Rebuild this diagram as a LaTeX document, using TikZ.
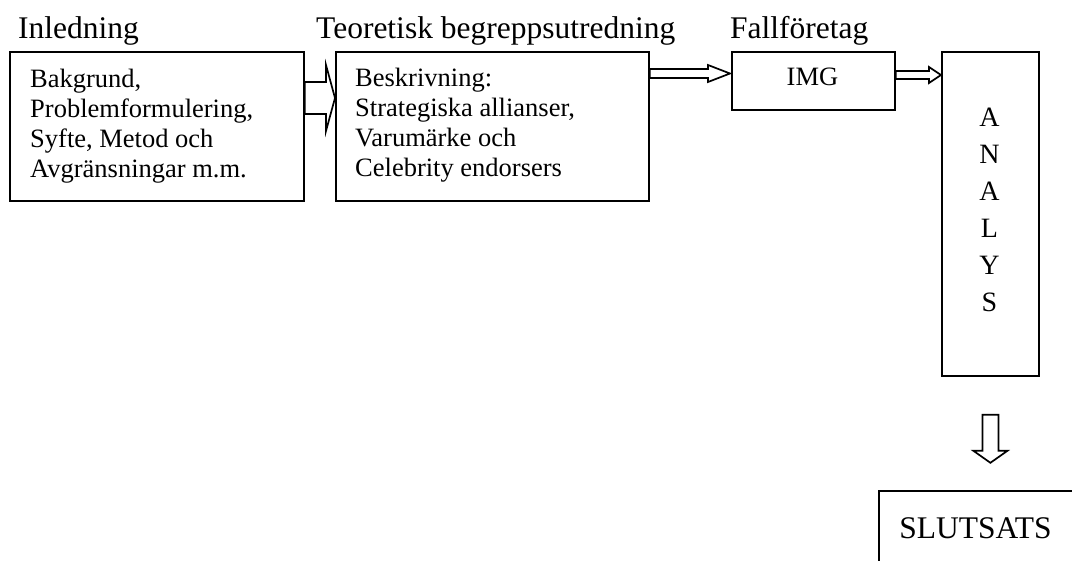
\documentclass[tikz,border=0pt]{standalone}
\usepackage{fontspec}
\setmainfont{Liberation Serif}
\usetikzlibrary{calc}

% horizontal block arrow: start, tip, shaft half-height, head half-height, head length
\newcommand{\blockarrowh}[5]{%
  \draw[blockarrow] ($(#1)+(0,-#3)$) -- ($(#2)+(-#5,-#3)$) -- ($(#2)+(-#5,-#4)$) -- (#2)
    -- ($(#2)+(-#5,#4)$) -- ($(#2)+(-#5,#3)$) -- ($(#1)+(0,#3)$) -- cycle;}
% vertical (downward) block arrow: start, tip, shaft half-width, head half-width, head length
\newcommand{\blockarrowv}[5]{%
  \draw[blockarrow] ($(#1)+(-#3,0)$) -- ($(#2)+(-#3,-#5)$) -- ($(#2)+(-#4,-#5)$) -- (#2)
    -- ($(#2)+(#4,-#5)$) -- ($(#2)+(#3,-#5)$) -- ($(#1)+(#3,0)$) -- cycle;}

\begin{document}
\begin{tikzpicture}[x=1bp,y=-1bp,
  frame/.style={draw, line width=1.8bp, inner sep=0, anchor=north west},
  blockarrow/.style={draw, fill=white, line width=1.7bp, line join=miter},
  heading/.style={inner sep=0, anchor=base west, font=\fontsize{31.5bp}{36bp}\selectfont},
  body/.style={inner sep=0, anchor=base west, font=\fontsize{26.5bp}{30bp}\selectfont},
]
\useasboundingbox (0,0) rectangle (1072,561);
\clip (0,0) rectangle (1072,561);

% section headings
\node[heading] (h-intro) at (18,39) {Inledning};
\node[heading] (h-theory) at (316,39) {Teoretisk begreppsutredning};
\node[heading] (h-case) at (730,39) {Fallföretag};

% boxes
\node[frame, minimum width=294bp, minimum height=149bp] (intro) at (9,51) {};
\node[frame, minimum width=313bp, minimum height=149bp] (theory) at (335,51) {};
\node[frame, minimum width=163bp, minimum height=58bp] (img) at (731,51) {};
\node[frame, minimum width=97bp, minimum height=324bp] (analys) at (941,51) {};
\node[frame, minimum width=200bp, minimum height=120bp] (slut) at (878,490) {};

% box contents
\node[body] (intro-text) at (30,88)
  {\parbox[t]{270bp}{Bakgrund,\\Problemformulering,\\Syfte, Metod och\\Avgränsningar m.m.}};
\node[body] (theory-text) at (355,87)
  {\parbox[t]{290bp}{Beskrivning:\\Strategiska allianser,\\Varumärke och\\Celebrity endorsers}};
\node[body, anchor=base] (img-text) at (812.5,86) {IMG};
\node[inner sep=0, anchor=base, font=\fontsize{28bp}{37bp}\selectfont] (analys-text) at (989.5,127)
  {\parbox[t]{40bp}{\centering A\\N\\A\\L\\Y\\S}};
\node[heading, anchor=base] (slut-text) at (975.5,538) {SLUTSATS};

% connectors
\coordinate (a1s) at ($(intro.north east)+(0,47)$);
\coordinate (a1e) at ($(theory.north west)+(0,47)$);
\coordinate (a2s) at ($(theory.north east)+(0,22.5)$);
\coordinate (a2e) at ($(img.north west)+(-1,22.5)$);
\coordinate (a3s) at ($(img.north east)+(0,24)$);
\coordinate (a3e) at ($(analys.north west)+(0,24)$);
\coordinate (a4s) at ($(analys.south)+(0,38)$);
\coordinate (a4e) at ($(analys.south)+(0,86)$);

\blockarrowh{a1s}{a1e}{16}{33}{9}
\blockarrowh{a2s}{a2e}{4.5}{8.5}{22}
\blockarrowh{a3s}{a3e}{4}{8}{12}
\blockarrowv{a4s}{a4e}{8}{17}{12}
\end{tikzpicture}
\end{document}
